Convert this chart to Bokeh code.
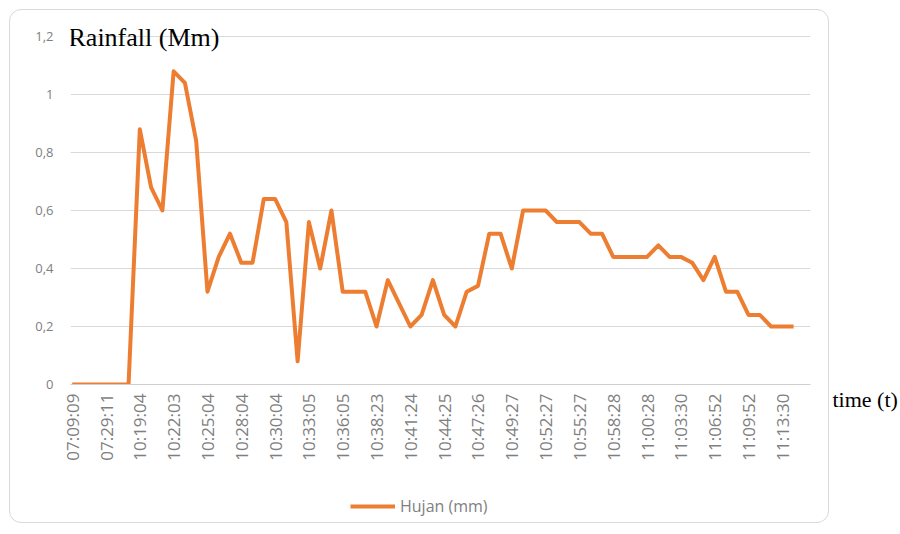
import math
import numpy as np
from bokeh.plotting import figure
from bokeh.layouts import column
from bokeh.models import (Range1d, FixedTicker, Label, Legend, LegendItem,
                          ColumnDataSource, LinearAxis, InlineStyleSheet)
from bokeh.embed import file_html
from bokeh.resources import INLINE

# ---------------- data ----------------
rain_mm = [0, 0, 0, 0, 0, 0,
           0.88, 0.68, 0.60, 1.08, 1.04, 0.84, 0.32, 0.44, 0.52, 0.42,
           0.42, 0.64, 0.64, 0.56, 0.08, 0.56, 0.40, 0.60, 0.32, 0.32,
           0.32, 0.20, 0.36, 0.28, 0.20, 0.24, 0.36, 0.24, 0.20, 0.32,
           0.34, 0.52, 0.52, 0.40, 0.60, 0.60, 0.60, 0.56, 0.56, 0.56,
           0.52, 0.52, 0.44, 0.44, 0.44, 0.44, 0.48, 0.44, 0.44, 0.42,
           0.36, 0.44, 0.32, 0.32, 0.24, 0.24, 0.20, 0.20, 0.20]
time_labels = ["07:09:09", "07:29:11", "10:19:04", "10:22:03", "10:25:04",
               "10:28:04", "10:30:04", "10:33:05", "10:36:05", "10:38:23",
               "10:41:24", "10:44:25", "10:47:26", "10:49:27", "10:52:27",
               "10:55:27", "10:58:28", "11:00:28", "11:03:30", "11:06:52",
               "11:09:52", "11:13:30"]
label_every = 3
y_ticks = [0, 0.2, 0.4, 0.6, 0.8, 1, 1.2]
y_tick_labels = ["0", "0,2", "0,4", "0,6", "0,8", "1", "1,2"]
series_name = "Hujan (mm)"
y_title = "Rainfall (Mm)"
x_title = "time (t)"

# ---------------- layout ----------------
W, H = 900, 534
H_MAIN = 470
FL, FR, FT, FB = 70, 810, 20, 384
GRID_TOP_PX = 36                      # pixel row of the 1,2 gridline
XR = (-0.15, 65.5)
YMAX = 1.2 + (GRID_TOP_PX - FT) * 1.2 / (FB - GRID_TOP_PX)
YR = (0, YMAX)
LINE_COLOR = "#ED7D31"
GRAY_TXT = "#7f7f7f"


def px_x(px):
    return XR[0] + (px - FL) * (XR[1] - XR[0]) / (FR - FL)


def py_y(py):
    return YR[0] + (FB - py) * (YR[1] - YR[0]) / (FB - FT)


src = ColumnDataSource(dict(idx=list(range(len(rain_mm))), rain=rain_mm))

p = figure(frame_width=FR - FL, frame_height=FB - FT,
           output_backend="svg", toolbar_location=None,
           x_range=Range1d(*XR), y_range=Range1d(*YR),
           min_border_left=FL, min_border_right=W - FR,
           min_border_top=FT, min_border_bottom=H_MAIN - FB)
p.title.visible = False
p.outline_line_color = None
p.background_fill_color = "white"
p.border_fill_color = "white"

r = p.line("idx", "rain", source=src, line_color=LINE_COLOR, line_width=4,
           line_join="round")

# x axis
xt = [i * label_every for i in range(len(time_labels))]
p.xaxis.ticker = FixedTicker(ticks=xt)
p.xaxis.major_label_overrides = {t: lab for t, lab in zip(xt, time_labels)}
p.xaxis.major_label_orientation = math.pi / 2
p.xaxis.major_tick_line_color = None
p.xaxis.minor_tick_line_color = None
p.xaxis.major_tick_out = 0
p.xaxis.minor_tick_out = 0
p.xaxis.axis_line_color = "#cfcfcf"
p.xaxis.major_label_text_color = GRAY_TXT
p.xaxis.major_label_text_font = "Open Sans"
p.xaxis.major_label_text_font_size = "17px"
p.xaxis.major_label_standoff = 9

# y axis
ykeys = [int(v) if float(v).is_integer() else v for v in y_ticks]
p.yaxis.ticker = FixedTicker(ticks=y_ticks)
p.yaxis.major_label_overrides = {k: lab for k, lab in zip(ykeys, y_tick_labels)}
p.yaxis.axis_line_color = None
p.yaxis.major_tick_line_color = None
p.yaxis.minor_tick_line_color = None
p.yaxis.major_tick_out = 0
p.yaxis.minor_tick_out = 0
p.yaxis.major_label_text_color = GRAY_TXT
p.yaxis.major_label_text_font = "Open Sans"
p.yaxis.major_label_text_font_size = "13px"
p.yaxis.major_label_standoff = 17

p.xgrid.visible = False
p.ygrid.ticker = FixedTicker(ticks=y_ticks)
p.ygrid.grid_line_color = "#d9d9d9"
p.ygrid.grid_line_width = 1

# "time (t)" at the right end of the category axis
rax = LinearAxis(ticker=FixedTicker(ticks=[0]),
                 major_label_overrides={0: "\n" + x_title},
                 axis_line_color=None, major_tick_line_color=None,
                 minor_tick_line_color=None, major_tick_out=0,
                 minor_tick_out=0, major_label_standoff=22,
                 major_label_text_font="Liberation Serif",
                 major_label_text_font_size="22px",
                 major_label_text_color="black")
p.add_layout(rax, "right")

# y title
p.add_layout(Label(x=px_x(68), y=py_y(37), text=y_title,
                   text_font="Liberation Serif", text_font_size="26px",
                   text_color="black", text_baseline="alphabetic"))

# ---------------- legend strip ----------------
p2 = figure(width=W, height=H - H_MAIN, output_backend="svg",
            toolbar_location=None, x_range=Range1d(0, 1),
            y_range=Range1d(0, 1), x_axis_location=None,
            y_axis_location=None, min_border=0)
p2.title.visible = False
p2.grid.visible = False
p2.outline_line_color = None
p2.background_fill_color = "white"
p2.border_fill_color = "white"
# legend-only renderer: same style as the series, no visible points
r2 = p2.line(x=np.array([np.nan]), y=np.array([np.nan]),
             line_color=LINE_COLOR, line_width=4)
legend = Legend(items=[LegendItem(label=series_name, renderers=[r2])],
                location=(350 - 8 - FL, 9), orientation="horizontal",
                border_line_alpha=0, background_fill_alpha=0,
                glyph_width=45, glyph_height=16, label_standoff=5,
                label_text_font="Open Sans", label_text_font_size="16px",
                label_text_color=GRAY_TXT, margin=0, padding=8)
p2.add_layout(legend)

border_css = InlineStyleSheet(css="""
:host { position: relative; }
:host::after {
  content: "";
  position: absolute;
  left: 9px; top: 9px; width: 820px; height: 514px;
  border: 1px solid #d9d9d9;
  border-radius: 12px;
  pointer-events: none;
  box-sizing: border-box;
}
""")

layout = column(p, p2, spacing=0, stylesheets=[border_css])

open("out.html", "w").write(file_html(layout, INLINE))
